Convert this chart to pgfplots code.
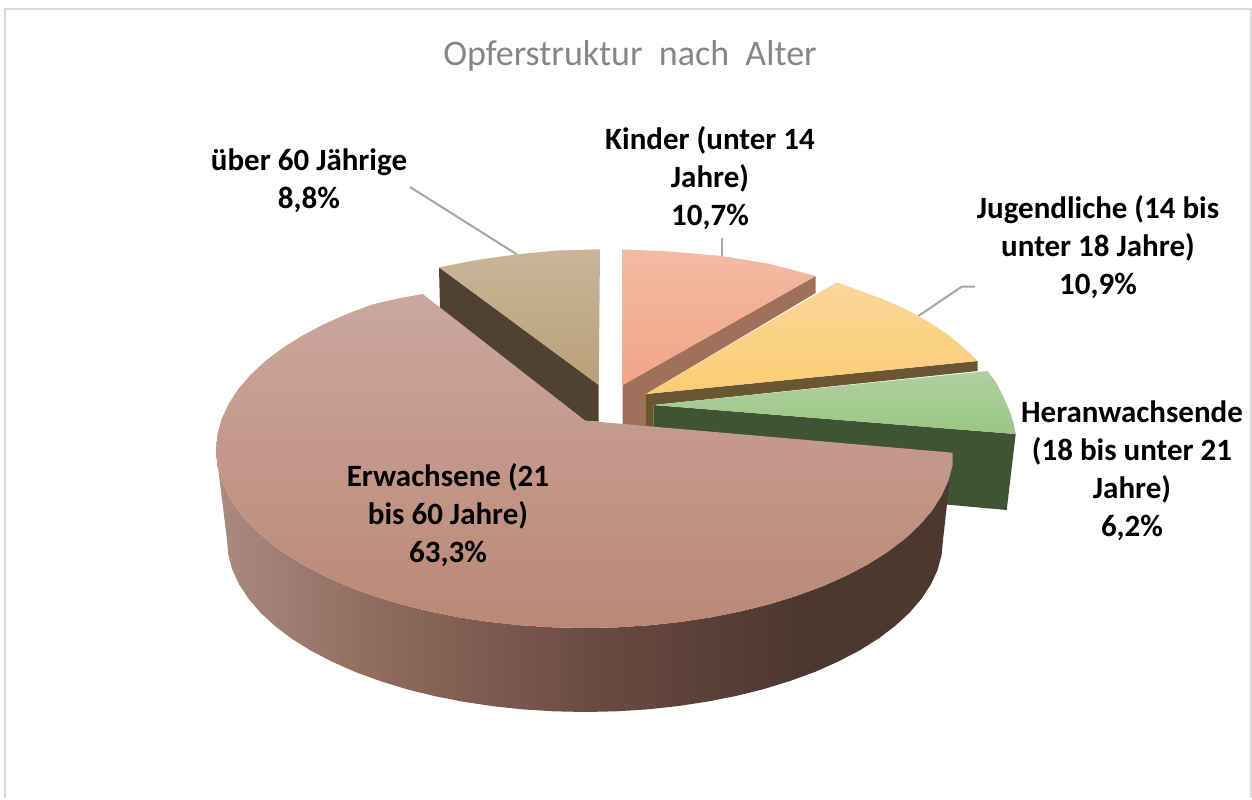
\documentclass[border=0pt]{standalone}
\usepackage{pgfplots}
\pgfplotsset{compat=1.18}
\usepackage{fontspec}
\setmainfont{Carlito}
\definecolor{bord}{HTML}{D9D9D9}
\definecolor{lead}{HTML}{A6A6A6}
\definecolor{wa}{HTML}{AB8A7F}
\definecolor{wb}{HTML}{8C675B}
\definecolor{wc}{HTML}{6A4A40}
\definecolor{wd}{HTML}{4C3731}
\definecolor{wallU}{HTML}{4F4232}
\definecolor{wallK}{HTML}{9F705A}
\definecolor{wallJ}{HTML}{6B5632}
\definecolor{wallH}{HTML}{415335}
\definecolor{topUa}{HTML}{C9B597}
\definecolor{topUb}{HTML}{B9A07A}
\definecolor{topKa}{HTML}{F2BBA4}
\definecolor{topKb}{HTML}{F2A486}
\definecolor{topJa}{HTML}{FAD69A}
\definecolor{topJb}{HTML}{FBCD72}
\definecolor{topHa}{HTML}{B0D0A0}
\definecolor{topHb}{HTML}{9AC684}
\definecolor{topEa}{HTML}{CBA79E}
\definecolor{topEb}{HTML}{BB8875}
\definecolor{titlec}{HTML}{868686}
\pgfdeclarehorizontalshading{wallshade}{100bp}{
 color(0bp)=(wa);color(25bp)=(wa);color(37.5bp)=(wb);color(51bp)=(wc);color(64.6bp)=(wd);color(75bp)=(wd);color(100bp)=(wd)}
\begin{document}
\begin{tikzpicture}
\begin{axis}[
  scale only axis, width=626pt, height=399pt,
  xmin=0, xmax=1252, ymin=0, ymax=798, y dir=reverse,
  hide axis, clip=false, no markers,
  every axis plot/.append style={line join=round},
]
% page
\addplot[fill=white, draw=none] coordinates {(0,0) (1252,0) (1252,798) (0,798)} --cycle;
% frame
\addplot[draw=bord, line width=1.1pt] coordinates {(4.7,798) (4.7,8.7) (1250.8,8.7) (1250.8,798)};
% leaders
\addplot[draw=lead, line width=1pt] coordinates {(516.7,254.3) (410,187)};
\addplot[draw=lead, line width=1pt] coordinates {(721.7,256) (721.7,238)};
\addplot[draw=lead, line width=1pt] coordinates {(918.3,316) (961.7,286.7) (975,286.7)};
% ueber 60
\addplot[fill=wallU, draw=none] coordinates {(439,267.3) (598.7,385) (598.7,421.7) (585,420.7) (440,308)} --cycle;
\addplot[top color=topUa, bottom color=topUb, draw=none] coordinates {(439,267.3) (478,259.8) (516.7,254.3) (558,250.5) (600,249.3) (598.7,385)} --cycle;
% Kinder
\addplot[fill=wallK, draw=none] coordinates {(815.7,276) (815.7,293) (646,394) (646,428) (622.7,428) (622.7,385)} --cycle;
\addplot[top color=topKa, bottom color=topKb, draw=none] coordinates {(622.3,249.3) (670,251.5) (721.7,256) (770,264) (815.7,276) (622.7,385)} --cycle;
% Jugendliche
\addplot[fill=wallJ, draw=none] coordinates {(977.7,361) (977.7,371) (653.3,405) (653.3,428) (646,428) (646,394)} --cycle;
\addplot[top color=topJa, bottom color=topJb, draw=none] coordinates {(836.7,282.3) (858,290) (880,298) (899,306) (918.3,316) (935,326) (950,336) (964,348) (977.7,361) (646,394)} --cycle;
% Heranwachsende
\addplot[fill=wallH, draw=none] coordinates {(653.3,405) (1015.7,434) (1006.7,510) (653.3,478)} --cycle;
\addplot[top color=topHa, bottom color=topHb, draw=none] coordinates {(653.3,405) (987.7,371) (997,384) (1003.3,396.7) (1010,412) (1013.5,423) (1015.7,434)} --cycle;
% Erwachsene wall
\addplot[shading=wallshade, draw=none] coordinates {
(952.7,452.7) (952.6,465.5) (948.4,480.9) (941.4,496.1) (931.8,510.9) (919.4,525.2) (904.6,539) (887.3,552.1) (867.7,564.4) (845.9,575.9) (822.2,586.4) (796.7,595.8) (769.5,604.2) (740.9,611.3) (711.2,617.3) (680.5,621.9) (649.1,625.3) (617.2,627.3) (585,628) (552.8,627.3) (520.9,625.3) (489.5,621.9) (458.8,617.3) (429.1,611.3) (400.5,604.2) (373.3,595.8) (347.8,586.4) (324.1,575.9) (302.3,564.4) (282.7,552.1) (265.4,539) (250.6,525.2) (238.2,510.9) (228.6,496.1) (221.6,480.9) (217.4,465.5) (216,450)
(227,540) (228.4,555) (232.4,569.9) (239.2,584.5) (248.6,598.8) (260.5,612.7) (275,626) (291.7,638.7) (310.8,650.6) (331.9,661.6) (354.9,671.8) (379.7,680.9) (406,689) (433.7,695.9) (462.6,701.6) (492.3,706.1) (522.8,709.4) (553.8,711.3) (585,712) (616.2,711.3) (647.2,709.4) (677.7,706.1) (707.4,701.6) (736.3,695.9) (764,689) (790.3,680.9) (815.1,671.8) (838.1,661.6) (859.2,650.6) (878.3,638.7) (895,626) (909.5,612.7) (921.4,598.8) (930.8,584.5) (937.6,569.9) (941.6,555) (943,540)
} --cycle;
% Erwachsene top
\addplot[top color=topEa, bottom color=topEb, draw=none] coordinates {
(585,420.7) (952.7,452.7) (952.6,465.5) (948.4,480.9) (941.4,496.1) (931.8,510.9) (919.4,525.2) (904.6,539) (887.3,552.1) (867.7,564.4) (845.9,575.9) (822.2,586.4) (796.7,595.8) (769.5,604.2) (740.9,611.3) (711.2,617.3) (680.5,621.9) (649.1,625.3) (617.2,627.3) (585,628) (552.8,627.3) (520.9,625.3) (489.5,621.9) (458.8,617.3) (429.1,611.3) (400.5,604.2) (373.3,595.8) (347.8,586.4) (324.1,575.9) (302.3,564.4) (282.7,552.1) (265.4,539) (250.6,525.2) (238.2,510.9) (228.6,496.1) (221.6,480.9) (217.4,465.5) (216,450) (217.4,434.5) (221.6,419.1) (228.6,403.9) (238.2,389.1) (250.6,374.8) (265.4,361) (282.7,347.9) (302.3,335.6) (324.1,324.1) (347.8,313.6) (373.3,304.2) (400.5,298) (422.7,294)
} --cycle;
% texts
\node[text=titlec, font=\fontsize{18}{20}\selectfont] at (axis cs:630,56) {Opferstruktur\ \ nach\ \ Alter};
\tikzset{lab/.style={align=center, anchor=center, text=black, font=\fontsize{15.5}{19}\selectfont\bfseries}}
\node[lab] at (axis cs:309,180.5) {über 60 Jährige\\8,8\%};
\node[lab] at (axis cs:710,178.5) {Kinder (unter 14\\Jahre)\\10,7\%};
\node[lab] at (axis cs:1098,247.5) {Jugendliche (14 bis\\unter 18 Jahre)\\10,9\%};
\node[lab] at (axis cs:1132,470.5) {Heranwachsende\\(18 bis unter 21\\Jahre)\\6,2\%};
\node[lab] at (axis cs:448,515.5) {Erwachsene (21\\bis 60 Jahre)\\63,3\%};
\end{axis}
\end{tikzpicture}
\end{document}
